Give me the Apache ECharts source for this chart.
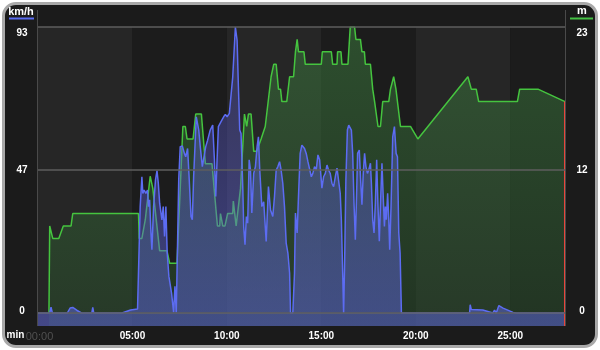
<!DOCTYPE html>
<html>
<head>
<meta charset="utf-8">
<script src="https://cdn.jsdelivr.net/npm/echarts@6/dist/echarts.min.js"></script>
<style>
  html, body { margin: 0; padding: 0; background: #fff; }
  #wrap { position: relative; width: 600px; height: 350px; }
  #frame {
    position: absolute; left: 2px; top: 2px; width: 596px; height: 346px;
    box-sizing: border-box; border: 3px solid #a9a9a9; border-radius: 14px;
    background: #1b1b1b;
  }
  #chart { position: absolute; left: 0; top: 0; width: 600px; height: 350px; }
</style>
</head>
<body>
<div id="wrap">
  <div id="frame"></div>
  <div id="chart"></div>
</div>
<script>
// ==============================
// data (time in minutes)
// ==============================
const speedMin = [
  0, 0.62, 0.69, 0.76, 1.55, 1.7, 1.84, 2.05, 2.3, 2.85, 2.9, 2.95, 4.45, 4.9, 5.27,
  5.32, 5.41, 5.5, 5.55, 5.62, 5.71, 5.8, 5.85, 5.91, 5.98, 6.03, 6.12, 6.22, 6.3, 6.37,
  6.44, 6.51, 6.56, 6.63, 6.7, 6.77, 6.84, 6.93, 7.07, 7.18, 7.25, 7.32, 7.45, 7.53, 7.64,
  7.75, 7.82, 7.92, 7.99, 8.1, 8.17, 8.24, 8.38, 8.51, 8.59, 8.7, 8.77, 8.88, 8.98, 9.12,
  9.25, 9.34, 9.41, 9.48, 9.55, 9.69, 9.83, 9.92, 10.01, 10.13, 10.31, 10.45, 10.54, 10.61, 10.68,
  10.75, 10.84, 10.89, 10.96, 11.03, 11.1, 11.18, 11.25, 11.32, 11.42, 11.51, 11.6, 11.67, 11.74, 11.85,
  11.95, 12.08, 12.2, 12.31, 12.43, 12.52, 12.61, 12.7, 12.79, 12.87, 12.96, 13.05, 13.14, 13.23, 13.32,
  13.37, 13.49, 13.58, 13.63, 13.72, 13.79, 13.88, 13.97, 14.11, 14.2, 14.29, 14.38, 14.47, 14.55, 14.64,
  14.73, 14.82, 14.91, 15.03, 15.12, 15.21, 15.3, 15.38, 15.47, 15.56, 15.65, 15.74, 15.83, 15.92, 16.0,
  16.06, 16.13, 16.18, 16.23, 16.3, 16.38, 16.45, 16.53, 16.59, 16.66, 16.73, 16.8, 16.85, 16.92, 17.01,
  17.08, 17.15, 17.22, 17.29, 17.36, 17.44, 17.51, 17.6, 17.65, 17.72, 17.79, 17.86, 17.93, 18.0, 18.07,
  18.14, 18.21, 18.27, 18.34, 18.39, 18.44, 18.51, 18.57, 18.62, 18.69, 18.78, 18.87, 18.96, 19.03, 19.1,
  19.17, 19.24, 22.85, 22.88, 22.94, 23.55, 24.08, 24.17, 24.26, 24.4, 24.62, 25.15, 25.32, 27.9
];
const speedKmh = [
  0, 0, 1.9, 0, 0, 1.6, 1.8, 0.9, 0, 0, 1.8, 0, 0, 1.0, 1.3,
  1.1, 34.6, 44.3, 38.9, 40.0, 38.9, 40.0, 34.6, 36.8, 26.0, 20.6, 34.6, 43.3, 46.3, 42.2,
  35.7, 35.2, 30.3, 34.6, 24.9, 34.6, 19.5, 11.9, 6.5, 0.2, 8.7, 0.2, 43.3, 54.1, 54.3,
  51.9, 50.8, 53.5, 45.4, 31.4, 30.3, 44.3, 63.8, 59.5, 54.1, 47.6, 47.6, 54.1, 56.2, 59.5,
  61.1, 49.8, 37.9, 49.8, 60.6, 62.2, 63.8, 64.6, 63.8, 64.9, 76.8, 93.0, 88.7, 73.6, 59.5,
  58.4, 41.1, 28.1, 22.2, 31.4, 29.2, 49.8, 46.5, 32.5, 45.4, 47.6, 54.1, 57.3, 46.5, 34.6,
  36.2, 23.3, 41.1, 33.5, 31.4, 37.9, 46.5, 47.6, 49.2, 46.5, 42.2, 34.6, 22.7, 19.5, 13.0,
  0, 0, 13.0, 32.5, 26.0, 37.9, 51.9, 54.6, 53.5, 51.9, 49.2, 48.7, 44.3, 45.4, 47.6,
  46.5, 51.4, 49.8, 40.6, 44.3, 45.4, 48.1, 46.5, 45.4, 42.2, 41.1, 44.3, 47.1, 47.6, 38.9,
  30.3, 13.0, 0, 15.1, 43.3, 59.5, 61.1, 61.7, 59.5, 51.9, 35.7, 23.8, 34.6, 51.9, 53.0,
  43.3, 35.2, 45.4, 51.9, 47.6, 45.4, 46.5, 48.7, 42.2, 30.3, 26.0, 35.7, 49.8, 34.6, 23.3,
  36.8, 48.7, 38.9, 28.1, 34.6, 30.3, 38.9, 30.3, 20.6, 34.6, 57.3, 60.6, 51.9, 50.8, 26.0,
  19.5, 0, 0, 2.7, 1.1, 1.0, 0, 0.9, 0, 2.4, 1.6, 0.2, 0, 0
];

const altMin = [
  0.58, 0.62, 0.78, 1.1, 1.34, 1.75, 1.84, 5.32, 5.36, 5.5, 5.68, 5.94, 6.08, 6.44, 6.83,
  6.97, 7.36, 7.67, 7.8, 7.89, 8.21, 8.35, 8.65, 8.86, 9.21, 9.44, 9.5, 9.62, 9.66, 9.74,
  9.78, 9.9, 10.04, 10.31, 10.34, 10.49, 10.57, 10.72, 10.93, 11.05, 11.14, 11.28, 11.42, 11.58, 11.81,
  12.03, 12.34, 12.48, 12.61, 12.73, 12.84, 12.91, 13.17, 13.32, 13.53, 13.63, 13.72, 13.79, 14.08, 14.15,
  15.0, 15.05, 15.53, 15.6, 15.83, 15.86, 16.04, 16.09, 16.41, 16.53, 16.76, 16.83, 17.07, 17.15, 17.28,
  17.33, 17.6, 17.72, 17.82, 18.0, 18.13, 18.25, 18.57, 18.66, 18.83, 18.95, 19.19, 19.72, 20.11, 22.76,
  22.94, 23.2, 23.33, 25.38, 25.5, 26.47, 27.9
];
const altM = [
  0, 7, 6, 6, 7, 7, 8, 8, 6, 6, 7.5, 11, 10, 5, 5,
  4, 4, 15, 15, 14, 14, 16, 16, 12, 12, 8, 7, 7, 8, 8,
  7, 7, 8, 8, 9, 7, 7, 10, 16, 15, 16, 16, 13, 13, 14,
  15, 19, 20, 20, 18, 18, 17, 17, 19, 19, 21, 22, 21, 21, 20,
  20, 21, 21, 20, 20, 21, 21, 20, 20, 23, 23, 22, 22, 21, 21,
  20, 20, 18, 17, 15, 15, 17, 17, 18, 19, 18, 15, 15, 14, 19,
  18, 18, 17, 17, 18, 18, 17
];

const speedTicks = [0, 46.5, 93];
const altTicks = [0, 11.5, 23];
const xStepMin = 5;

// ==============================
// scales
// ==============================
const X_MAX = speedMin[speedMin.length - 1];
const SPEED_STEP = speedTicks[1] / 11;
const ALT_STEP = altTicks[1] / 11;

const near = (a, b) => Math.abs(a - b) < 0.01;
const pad = n => (n < 10 ? '0' : '') + n;

const zip = (xs, ys) => xs.map((x, i) => [x, ys[i]]);

const chart = echarts.init(document.getElementById('chart'));

const FONT = 'Liberation Sans, Arial, sans-serif';
const labelFont = {
  color: '#ffffff',
  fontWeight: 'bold',
  fontSize: 10,
  fontFamily: FONT
};

function yLabel(ticks, text) {
  return v => {
    if (near(v, ticks[2])) return '{t|' + text[2] + '}';
    if (near(v, ticks[1])) return text[1];
    if (near(v, ticks[0])) return '{b|' + text[0] + '}';
    return '';
  };
}

const yRich = {
  t: { padding: [13, 0, 0, 0], ...labelFont },
  b: { padding: [0, 0, 4, 0], ...labelFont }
};

const lastAlt = altM[altM.length - 1];

chart.setOption({
  backgroundColor: 'transparent',
  animation: false,
  grid: { left: 38, right: 35, top: 27, bottom: 24 },
  xAxis: {
    type: 'value',
    min: 0,
    max: X_MAX,
    interval: xStepMin,
    axisLine: { show: true, lineStyle: { color: '#5a5a5a', width: 1 } },
    axisTick: { show: false },
    splitLine: { show: false },
    splitArea: { show: true, areaStyle: { color: ['#262626', '#1c1c1c'] } },
    axisLabel: {
      ...labelFont,
      margin: 5,
      showMaxLabel: false,
      formatter: v => {
        if (Math.abs(v % xStepMin) > 0.01) return '';
        if (v === 0) return '{g|00:00}';
        return pad(Math.round(v)) + ':00';
      },
      rich: { g: { ...labelFont, color: '#505050', fontWeight: 'normal', fontSize: 11, padding: [0, 0, 0, 3] } }
    }
  },
  yAxis: [
    {
      type: 'value',
      min: -SPEED_STEP,
      max: speedTicks[2],
      interval: SPEED_STEP,
      axisLine: { show: false },
      axisTick: { show: false },
      splitLine: { show: false },
      axisLabel: {
        ...labelFont,
        align: 'center',
        margin: 16,
        formatter: yLabel(speedTicks, ['0', '47', '93']),
        rich: yRich
      }
    },
    {
      type: 'value',
      position: 'right',
      min: -ALT_STEP,
      max: altTicks[2],
      interval: ALT_STEP,
      axisLine: { show: false },
      axisTick: { show: false },
      splitLine: { show: false },
      axisLabel: {
        ...labelFont,
        align: 'center',
        margin: 17,
        formatter: yLabel(altTicks, ['0', '12', '23']),
        rich: yRich
      }
    }
  ],
  graphic: [
    { type: 'line', shape: { x1: 37.5, y1: 10, x2: 37.5, y2: 326 }, style: { stroke: '#4a4a4a', lineWidth: 1 }, z: 10 },
    { type: 'line', shape: { x1: 565.5, y1: 10, x2: 565.5, y2: 326 }, style: { stroke: '#4a4a4a', lineWidth: 1 }, z: 10 },
    { type: 'text', x: 21, y: 12, style: { text: 'km/h', fill: '#fff', font: 'bold 11px ' + FONT, textAlign: 'center', textVerticalAlign: 'middle' } },
    { type: 'rect', shape: { x: 9, y: 17.5, width: 25, height: 2 }, style: { fill: '#5a6cf0' } },
    { type: 'text', x: 582, y: 11, style: { text: 'm', fill: '#fff', font: 'bold 11px ' + FONT, textAlign: 'center', textVerticalAlign: 'middle' } },
    { type: 'rect', shape: { x: 570, y: 17.5, width: 23, height: 2 }, style: { fill: '#44c044' } },
    { type: 'text', x: 15.5, y: 335, style: { text: 'min', fill: '#fff', font: 'bold 10px ' + FONT, textAlign: 'center', textVerticalAlign: 'middle' } }
  ],
  series: [
    {
      name: 'altitude',
      type: 'line',
      yAxisIndex: 1,
      data: zip(altMin, altM),
      symbol: 'none',
      z: 2,
      lineStyle: { color: '#45c43f', width: 1.5 },
      areaStyle: {
        origin: 'start',
        color: new echarts.graphic.LinearGradient(0, 0, 0, 1, [
          { offset: 0, color: 'rgba(62,128,64,0.72)' },
          { offset: 1, color: 'rgba(40,76,42,0.72)' }
        ])
      },
      markLine: {
        silent: true,
        symbol: 'none',
        label: { show: false },
        lineStyle: { color: '#e8453c', width: 2, type: 'solid' },
        data: [[
          { coord: [X_MAX, lastAlt] },
          { coord: [X_MAX, -ALT_STEP] }
        ]]
      }
    },
    {
      name: 'speed',
      type: 'line',
      data: zip(speedMin, speedKmh),
      symbol: 'none',
      z: 3,
      lineStyle: { color: '#5c6cf2', width: 1.5 },
      areaStyle: {
        origin: 'start',
        color: new echarts.graphic.LinearGradient(0, 0, 0, 1, [
          { offset: 0, color: 'rgba(96,92,215,0.38)' },
          { offset: 1, color: 'rgba(92,100,215,0.78)' }
        ])
      },
      markLine: {
        silent: true,
        symbol: 'none',
        label: { show: false },
        lineStyle: { color: '#5e5e5e', width: 1.5, type: 'solid' },
        data: speedTicks.map(v => ({ yAxis: v }))
      }
    }
  ]
});
</script>
</body>
</html>
